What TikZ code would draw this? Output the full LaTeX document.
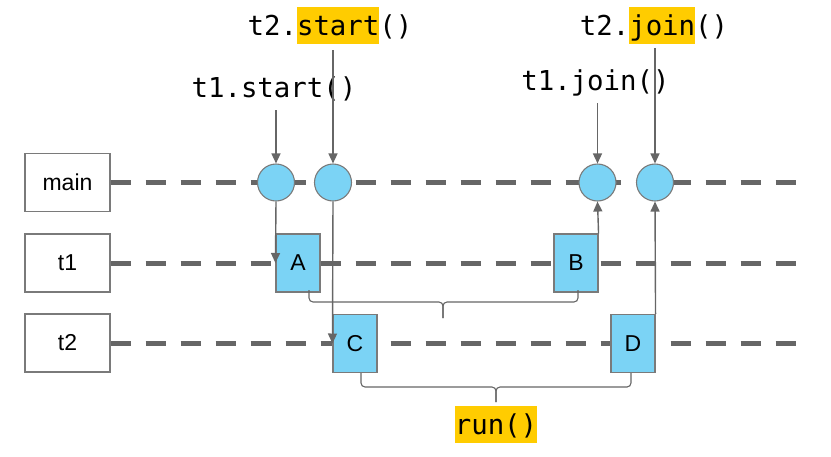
\documentclass[tikz,border=0pt]{standalone}
\usepackage{fontspec}
\setmainfont{Liberation Sans}
\setmonofont{DejaVu Sans Mono}
\usetikzlibrary{arrows.meta}
\definecolor{linegray}{HTML}{666666}
\definecolor{boxgray}{HTML}{7A7A7A}
\definecolor{cyanfill}{HTML}{7BD3F5}
\definecolor{hlc}{HTML}{FFCC00}
\newcommand\hlt[1]{{\setlength{\fboxsep}{0pt}\colorbox{hlc}{\rule[-9pt]{0pt}{37pt}#1}}}
\begin{document}
\begin{tikzpicture}[x=1pt,y=-1pt,
  lane/.style={draw=boxgray,line width=1.2pt,fill=white,minimum width=85pt,minimum height=58pt,inner sep=0pt,font=\fontsize{23}{26}\selectfont},
  evt/.style={circle,draw=boxgray,line width=1.1pt,fill=cyanfill,minimum size=37pt,inner sep=0pt},
  task/.style={draw=boxgray,line width=1.1pt,fill=cyanfill,minimum width=44pt,minimum height=58pt,inner sep=0pt,font=\fontsize{23}{26}\selectfont},
  timeline/.style={draw=linegray,line width=5pt,dash pattern=on 20pt off 15pt},
  arr/.style={draw=linegray,line width=1.4pt,-{Triangle[length=10pt,width=9pt]}},
  brc/.style={draw=linegray,line width=1.1pt,rounded corners=4pt},
  code/.style={font=\ttfamily\fontsize{27.4}{30}\selectfont,anchor=base,inner sep=0pt}]
\useasboundingbox (0,0) rectangle (831,456);
% lanes
\node[lane] (main) at (67.5,182.5) {main};
\node[lane] (t1) at (67.5,263) {t1};
\node[lane] (t2) at (67.5,343) {t2};
\coordinate (mainend) at (800,182.5);
\coordinate (t1end) at (800,263);
\coordinate (t2end) at (800,343);
\draw[timeline] (main.east) -- (mainend);
\draw[timeline] (t1.east) -- (t1end);
\draw[timeline] (t2.east) -- (t2end);
% events
\node[evt] (c1) at (276,182.5) {};
\node[evt] (c2) at (333,182.5) {};
\node[evt] (c3) at (597.5,182.5) {};
\node[evt] (c4) at (655,182.5) {};
% tasks
\node[task] (A) at (298,263) {A};
\node[task] (B) at (576,263) {B};
\node[task] (C) at (355,343.5) {C};
\node[task] (D) at (633,343.5) {D};
% arrows between events and tasks
\draw[arr] (c1.south) -- (A.west);
\draw[arr] (c2.south) -- (C.west);
\draw[arr] (B.north east) -- (c3.south);
\draw[arr] (D.north east) -- (c4.south);
% top labels
\node[code] (l1) at (274,97) {t1.start()};
\node[code] (l2) at (330,35) {t2.\hlt{start}()};
\node[code] (l3) at (595.5,90) {t1.join()};
\node[code] (l4) at (654,35) {t2.\hlt{join}()};
\coordinate (s1) at (276,110);
\coordinate (s2) at (333,50);
\coordinate (s3) at (597.5,103);
\coordinate (s4) at (655,48);
\draw[arr] (s1) -- (c1.north);
\draw[arr] (s2) -- (c2.north);
\draw[arr] (s3) -- (c3.north);
\draw[arr] (s4) -- (c4.north);
% braces
\coordinate (b1l) at (309,290);
\coordinate (b1r) at (578,290);
\coordinate (b1t) at (443,318);
\draw[brc] (b1l) -- (309,302) -- (443,302) -- (b1t);
\draw[brc] (b1r) -- (578,302) -- (443,302) -- (b1t);
\coordinate (b2l) at (361,373);
\coordinate (b2r) at (631,373);
\coordinate (b2t) at (496,402);
\draw[brc] (b2l) -- (361,387) -- (496,387) -- (b2t);
\draw[brc] (b2r) -- (631,387) -- (496,387) -- (b2t);
\node[code] (run) at (496,434) {\hlt{run()}};
\end{tikzpicture}
\end{document}
